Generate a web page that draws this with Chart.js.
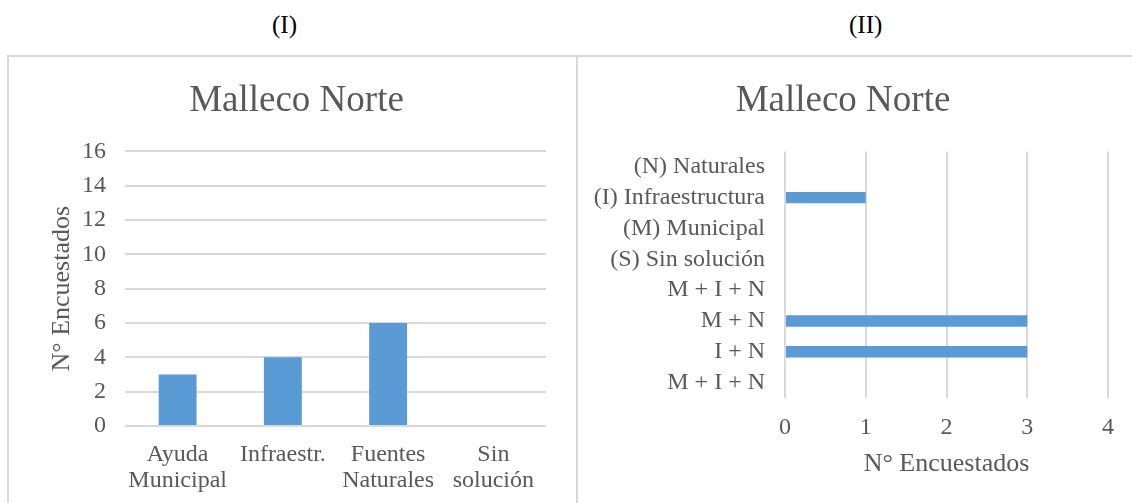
<!DOCTYPE html>
<html>
<head>
<meta charset="utf-8">
<script src="https://cdn.jsdelivr.net/npm/chart.js@4"></script>
<style>
    body { margin: 0; background: #fff; width: 1132px; height: 503px; overflow: hidden; position: relative; font-family: "Liberation Serif", serif; }
    .lbl { position: absolute; top: 11px; font-size: 25px; color: #000; }
    .panel { position: absolute; top: 55px; height: 452px; border: 2px solid #d9d9d9; box-sizing: border-box; }
    .panel canvas { position: absolute; left: 0; top: 0; }
</style>
</head>
<body>
<div class="lbl" style="left:272px">(I)</div>
<div class="lbl" style="left:849px">(II)</div>
<div class="panel" style="left:7px; width:571px;"><canvas id="chart1" width="567" height="448"></canvas></div>
<div class="panel" style="left:576px; width:560px;"><canvas id="chart2" width="554" height="448"></canvas></div>
<script>
// datos grafico (I)
const cat1 = [['Ayuda', 'Municipal'], 'Infraestr.', ['Fuentes', 'Naturales'], ['Sin', 'solución']];
const val1 = [3, 4, 6, 0];
// datos grafico (II)
const cat2 = ['(N) Naturales', '(I) Infraestructura', '(M) Municipal', '(S) Sin solución', 'M + I + N', 'M + N', 'I + N', 'M + I + N'];
const val2 = [0, 1, 0, 0, 0, 3, 3, 0];

const gris = '#595959';
const grid = '#d9d9d9';
const azul = '#5B9BD5';
const fuente = 'Liberation Serif';

function titulo(texto) {
    return {
        display: true,
        text: texto,
        color: gris,
        font: { family: fuente, size: 37, weight: 'normal' },
        padding: { top: 22, bottom: 28 }
    };
}

new Chart(document.getElementById('chart1').getContext('2d'), {
    type: 'bar',
    data: {
        labels: cat1,
        datasets: [{
            data: val1,
            backgroundColor: azul,
            barPercentage: 0.36,
            categoryPercentage: 1
        }]
    },
    options: {
        responsive: false,
        animation: false,
        layout: { padding: { right: 30, left: 38 } },
        plugins: { legend: { display: false }, tooltip: { enabled: false }, title: titulo('Malleco Norte') },
        scales: {
            x: {
                grid: { display: false },
                border: { display: false },
                ticks: { color: gris, font: { family: fuente, size: 24, lineHeight: 1.07 }, padding: 8, maxRotation: 0 },
                afterFit: s => { s.height = 79; }
            },
            y: {
                min: 0, max: 16,
                ticks: { stepSize: 2, color: gris, font: { family: fuente, size: 24 }, padding: 19 },
                grid: { color: grid, lineWidth: 2, drawTicks: false },
                border: { display: false },
                title: { display: true, text: 'N° Encuestados', color: gris, font: { family: fuente, size: 26 }, padding: 0 },
                afterFit: s => { s.width = 78; }
            }
        }
    }
});

new Chart(document.getElementById('chart2').getContext('2d'), {
    type: 'bar',
    data: {
        labels: cat2,
        datasets: [{
            data: val2,
            backgroundColor: azul,
            barPercentage: 0.37,
            categoryPercentage: 1
        }]
    },
    options: {
        indexAxis: 'y',
        responsive: false,
        animation: false,
        layout: { padding: { right: 24, bottom: 25 } },
        plugins: { legend: { display: false }, tooltip: { enabled: false }, title: titulo('Malleco Norte') },
        scales: {
            y: {
                grid: { display: false },
                border: { display: false },
                ticks: { color: gris, font: { family: fuente, size: 24 }, padding: 12, autoSkip: false },
                afterFit: s => { s.width = 207; }
            },
            x: {
                min: 0, max: 4,
                ticks: { stepSize: 1, color: gris, font: { family: fuente, size: 24 }, padding: 15 },
                grid: { color: grid, lineWidth: 2, drawTicks: false },
                border: { display: false },
                title: { display: true, text: 'N° Encuestados', color: gris, font: { family: fuente, size: 26 }, padding: 0 },
                afterFit: s => { s.height = 82; }
            }
        }
    }
});
</script>
</body>
</html>
